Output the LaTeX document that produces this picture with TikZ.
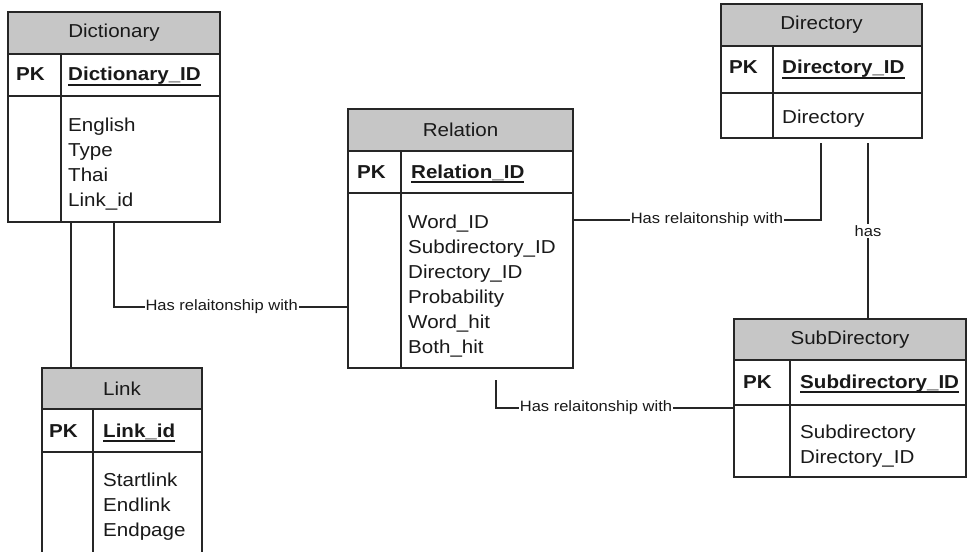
\documentclass[tikz,border=0pt]{standalone}
\usepackage{fontspec}
\setmainfont{Liberation Sans}[FakeStretch=1.1]
\newcommand{\erfont}{\fontsize{18.7}{22}\selectfont}
\newcommand{\lblfont}{\fontsize{15}{16}\selectfont}
\newcommand{\ulid}[1]{\setbox0\hbox{#1}\rlap{\vrule width\wd0 height -3.4pt depth 5pt}\box0}
\newcommand{\ertbl}[9]{%
  \node[hdrbox, minimum width=#4pt, minimum height=#5pt, anchor=north west] (#1-h) at (#2,#3) {#9};
  \node[rowbox, minimum width=#4pt, minimum height=#6pt, anchor=north west] (#1-k) at (#1-h.south west) {};
  \node[rowbox, minimum width=#4pt, minimum height=#7pt, anchor=north west] (#1-b) at (#1-k.south west) {};
  \draw[border] ([xshift=#8pt]#1-k.north west) -- ([xshift=#8pt]#1-b.south west);
}
\begin{document}
\begin{tikzpicture}[x=1pt,y=-1pt,
  hdrbox/.style={draw=black!85, line width=1.3pt, fill=gray!45, inner sep=0pt, outer sep=0pt, font=\erfont, text=black!90},
  rowbox/.style={draw=black!85, line width=1.3pt, fill=white, inner sep=0pt, outer sep=0pt},
  border/.style={draw=black!85, line width=1.3pt},
  conn/.style={draw=black!85, line width=1.1pt},
  lbl/.style={fill=white, inner sep=1pt, font=\lblfont, text=black!90},
  attr/.style={anchor=base west, inner sep=0pt, font=\erfont, text=black!90},
  pkl/.style={attr, font=\erfont\bfseries}]
\path[use as bounding box] (0,0) rectangle (968,551);
\clip (0,0) rectangle (968,551);

% tables
\ertbl{dict}{8}{12}{212}{42}{42}{126}{53}{Dictionary}
\ertbl{rel}{348}{109}{225}{42}{42}{175}{53}{Relation}
\ertbl{dir}{721}{4}{201}{42}{47}{45}{52}{Directory}
\ertbl{sub}{734}{319}{232}{41}{45}{72}{56}{SubDirectory}
\ertbl{link}{42}{368}{160}{41}{43}{110}{51}{Link}

% Dictionary
\node[pkl] (dict-pk) at (16,81) {PK};
\node[pkl] (dict-id) at (68,81) {\ulid{Dictionary\_ID}};
\foreach \t [count=\i from 0] in {English,Type,Thai,Link\_id}
  \node[attr] (dict-a\i) at (68,{131+25*\i}) {\t};

% Relation
\node[pkl] (rel-pk) at (357,178) {PK};
\node[pkl] (rel-id) at (411,178) {\ulid{Relation\_ID}};
\foreach \t [count=\i from 0] in {Word\_ID,Subdirectory\_ID,Directory\_ID,Probability,Word\_hit,Both\_hit}
  \node[attr] (rel-a\i) at (408,{228+25*\i}) {\t};

% Directory
\node[pkl] (dir-pk) at (729,74) {PK};
\node[pkl] (dir-id) at (782,74) {\ulid{Directory\_ID}};
\node[attr] (dir-a0) at (782,123) {Directory};

% SubDirectory
\node[pkl] (sub-pk) at (743,388) {PK};
\node[pkl] (sub-id) at (800,388) {\ulid{Subdirectory\_ID}};
\node[attr] (sub-a0) at (800,438) {Subdirectory};
\node[attr] (sub-a1) at (800,463) {Directory\_ID};

% Link
\node[pkl] (link-pk) at (49,437) {PK};
\node[pkl] (link-id) at (103,437) {\ulid{Link\_id}};
\foreach \t [count=\i from 0] in {Startlink,Endlink,Endpage}
  \node[attr] (link-a\i) at (103,{486+25*\i}) {\t};

% connectors
\draw[conn] ([xshift=63pt]dict-b.south west) -- ([xshift=29pt]link-h.north west);
\draw[conn] ([xshift=106pt]dict-b.south west) |- node[lbl,pos=0.73]{Has relaitonship with} ([yshift=61pt]rel-b.south west);
\draw[conn] ([yshift=-111pt]rel-h.north east) -| node[lbl,pos=0.27]{Has relaitonship with} ([xshift=100pt,yshift=-5pt]dir-b.south west);
\draw[conn] ([xshift=147pt,yshift=-5pt]dir-b.south west) -- node[lbl]{has} ([xshift=134pt]sub-h.north west);
\draw[conn] ([xshift=148pt,yshift=-12pt]rel-b.south west) |- node[lbl,pos=0.71]{Has relaitonship with} ([yshift=-89pt]sub-h.north west);
\end{tikzpicture}
\end{document}
